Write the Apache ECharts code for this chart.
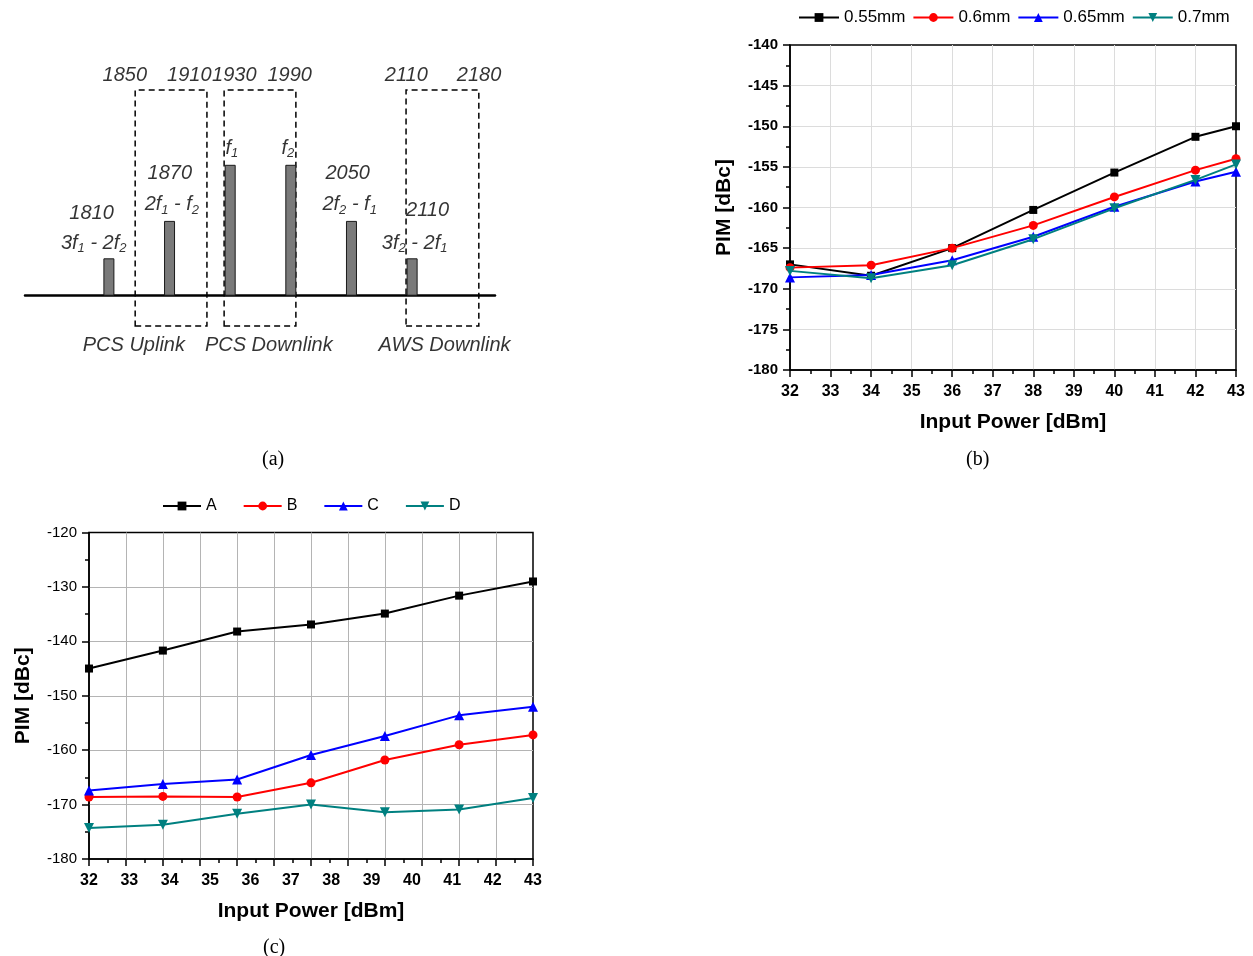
<!DOCTYPE html>
<html>
<head>
<meta charset="utf-8">
<title>PIM</title>
<script src="https://cdn.jsdelivr.net/npm/echarts@6/dist/echarts.min.js"></script>
<style>
  html, body { margin: 0; padding: 0; background: #fff; }
  #myChart { width: 1253px; height: 956px; }
</style>
</head>
<body>
<div id="myChart"></div>
<script>
// ---- (a) 频谱示意图 ----
var barFreq = [1810, 1870, 1930, 1990, 2050, 2110];
var barLevel = [1, 2, 3.5, 3.5, 2, 1];
// 虚线框 (频段), 按图上位置读取
var bandLow = [1836, 1924, 2104];
var bandHigh = [1907, 1995, 2176];
var bandTop = 5.5;
var bandBottom = -0.81;
// 文字标注 [x, y, text]
var notes = [
    [1825.8, 5.90, '1850'],
    [1889.6, 5.90, '1910'],
    [1934.1, 5.90, '1930'],
    [1988.9, 5.90, '1990'],
    [2104.3, 5.90, '2110'],
    [2176.2, 5.90, '2180'],
    [1792.9, 2.20, '1810'],
    [1795.0, 1.40, '{n|3f}{s|1}{n| - 2f}{s|2}'],
    [1870.3, 3.27, '1870'],
    [1872.3, 2.44, '{n|2f}{s|1}{n| - f}{s|2}'],
    [1931.6, 3.94, '{n|f}{s|1}'],
    [1987.0, 3.94, '{n|f}{s|2}'],
    [2046.2, 3.27, '2050'],
    [2048.2, 2.44, '{n|2f}{s|2}{n| - f}{s|1}'],
    [2125.3, 2.29, '2110'],
    [2112.5, 1.40, '{n|3f}{s|2}{n| - 2f}{s|1}'],
    [1834.7, -1.34, 'PCS Uplink'],
    [1968.2, -1.34, 'PCS Downlink'],
    [2142.1, -1.34, 'AWS Downlink']
];

// ---- (b) 不同间距 ----
var powerB = [32, 34, 36, 38, 40, 42, 43];
var namesB = ['0.55mm', '0.6mm', '0.65mm', '0.7mm'];
var pim055 = [-167.0, -168.4, -165.0, -160.3, -155.7, -151.3, -150.0];
var pim060 = [-167.4, -167.1, -165.0, -162.2, -158.7, -155.4, -154.0];
var pim065 = [-168.6, -168.3, -166.5, -163.6, -159.9, -156.8, -155.6];
var pim070 = [-167.8, -168.7, -167.1, -163.9, -160.1, -156.6, -154.7];

// ---- (c) A/B/C/D ----
var powerC = [32, 33.83, 35.67, 37.5, 39.33, 41.17, 43];
var namesC = ['A', 'B', 'C', 'D'];
var pimA = [-145.0, -141.7, -138.2, -136.9, -134.9, -131.6, -129.0];
var pimB = [-168.6, -168.5, -168.6, -166.0, -161.8, -159.0, -157.2];
var pimC = [-167.4, -166.2, -165.4, -160.9, -157.4, -153.6, -152.0];
var pimD = [-174.3, -173.7, -171.7, -170.0, -171.4, -170.9, -168.8];

var colors = ['#000000', '#ff0000', '#0000ff', '#008080'];
var symbols = ['rect', 'circle', 'triangle', 'triangle'];
var rotates = [0, 0, 0, 180];
var sans = 'Liberation Sans, Arial, sans-serif';
var serif = 'Liberation Serif, serif';

function pairs(xs, ys) {
    var out = [];
    for (var i = 0; i < xs.length; i++) out.push([xs[i], ys[i]]);
    return out;
}

// 折线
function lineSeries(name, k, xs, ys, idx, size) {
    return {
        name: name,
        type: 'line',
        xAxisIndex: idx,
        yAxisIndex: idx,
        data: pairs(xs, ys),
        color: colors[k],
        lineStyle: { width: 2, color: colors[k] },
        symbol: symbols[k],
        symbolRotate: rotates[k],
        symbolSize: k === 0 ? size - 1 : (k === 1 ? size : size + 1),
        itemStyle: { color: colors[k] },
        z: 3 + k
    };
}

// 数值坐标轴
function valueAxis(grid, min, max, step, bold, labelSize) {
    return {
        gridIndex: grid,
        type: 'value',
        min: min,
        max: max,
        interval: step,
        axisLine: { show: true, onZero: false, lineStyle: { color: '#000', width: 1.5 } },
        axisTick: { show: true, length: 7, lineStyle: { color: '#000', width: 1.5 } },
        minorTick: { show: true, splitNumber: 2, length: 4, lineStyle: { color: '#000', width: 1.5 } },
        axisLabel: { color: '#000', fontFamily: sans, fontWeight: bold ? 'bold' : 'normal', fontSize: labelSize, margin: 12 },
        nameTextStyle: { color: '#000', fontFamily: sans, fontWeight: 'bold', fontSize: 21 }
    };
}

function gridLine(color) {
    return { show: true, showMinLine: false, showMaxLine: false, lineStyle: { color: color, width: 1 } };
}

var bandData = [];
for (var i = 0; i < bandLow.length; i++) {
    bandData.push([{ xAxis: bandLow[i], yAxis: bandTop }, { xAxis: bandHigh[i], yAxis: bandBottom }]);
}

// (b) 坐标轴
var xB = valueAxis(1, 32, 43, 1, true, 16);
xB.axisLabel.margin = 14;
xB.splitLine = gridLine('#dcdcdc');
xB.name = 'Input Power [dBm]';
xB.nameLocation = 'middle';
xB.nameGap = 42;

var yB = valueAxis(1, -180, -140, 5, true, 15);
yB.splitLine = gridLine('#dcdcdc');
yB.name = 'PIM [dBc]';
yB.nameLocation = 'middle';
yB.nameGap = 55;

// (c) 坐标轴: 刻度标签 32..43, 网格线 12 等分
var xC = valueAxis(2, 32, 43, 1, true, 16);
xC.axisLabel.margin = 14;
xC.axisTick = { show: false };
xC.minorTick = { show: false };
xC.splitLine = { show: false };
xC.name = 'Input Power [dBm]';
xC.nameLocation = 'middle';
xC.nameGap = 42;
xC.position = 'bottom';

var xCgrid = valueAxis(2, 0, 12, 1, true, 16);
xCgrid.axisLabel = { show: false };
xCgrid.axisLine = { show: false, onZero: false };
xCgrid.splitLine = gridLine('#b4b4b4');
xCgrid.position = 'bottom';

var yC = valueAxis(2, -180, -120, 10, false, 15);
yC.splitLine = gridLine('#b4b4b4');
yC.name = 'PIM [dBc]';
yC.nameLocation = 'middle';
yC.nameGap = 55;

var capStyle = { fontFamily: serif, fontWeight: 'normal', fontSize: 20, color: '#000' };

var chart = echarts.init(document.getElementById('myChart'));
chart.setOption({
    animation: false,
    backgroundColor: '#fff',
    title: [
        { text: '(a)', left: 262, top: 450, padding: 0, textStyle: capStyle },
        { text: '(b)', left: 966, top: 450, padding: 0, textStyle: capStyle },
        { text: '(c)', left: 263, top: 938, padding: 0, textStyle: capStyle }
    ],
    legend: [
        {
            data: namesB, left: 798, top: 9, padding: 0, itemWidth: 40, itemHeight: 11, itemGap: 7,
            textStyle: { fontFamily: sans, fontSize: 17, color: '#000' }
        },
        {
            data: namesC, left: 162, top: 498, padding: 0, itemWidth: 38, itemHeight: 11, itemGap: 26,
            textStyle: { fontFamily: sans, fontSize: 16, color: '#000' }
        }
    ],
    grid: [
        { left: 25, top: 56.34, width: 470, height: 299.2, outerBoundsMode: 'none' },
        { left: 790, top: 45, width: 446, height: 325, show: true, borderColor: '#000', borderWidth: 1.5, outerBoundsMode: 'none' },
        { left: 89, top: 532.5, width: 444, height: 326.5, show: true, borderColor: '#000', borderWidth: 1.5, outerBoundsMode: 'none' }
    ],
    xAxis: [
        {
            gridIndex: 0, type: 'value', min: 1727, max: 2192,
            axisLine: { show: true, onZero: true, lineStyle: { color: '#000', width: 2.5 } },
            axisTick: { show: false }, axisLabel: { show: false }, splitLine: { show: false }
        },
        xB, xC, xCgrid
    ],
    yAxis: [
        {
            gridIndex: 0, type: 'value', min: -1.6, max: 6.4,
            axisLine: { show: false }, axisTick: { show: false }, axisLabel: { show: false }, splitLine: { show: false }
        },
        yB, yC
    ],
    series: [
        {
            type: 'bar',
            xAxisIndex: 0,
            yAxisIndex: 0,
            barWidth: 11,
            data: pairs(barFreq, barLevel),
            itemStyle: { color: '#7a7a7a', borderColor: '#1a1a1a', borderWidth: 1 },
            markArea: {
                silent: true,
                itemStyle: { color: 'rgba(0,0,0,0)', borderColor: '#000', borderWidth: 1.5, borderType: [6, 4] },
                data: bandData
            }
        },
        {
            type: 'scatter',
            xAxisIndex: 0,
            yAxisIndex: 0,
            silent: true,
            symbolSize: 1,
            itemStyle: { color: 'rgba(0,0,0,0)' },
            data: notes,
            label: {
                show: true,
                position: 'inside',
                color: '#000',
                fontFamily: sans,
                fontStyle: 'italic',
                fontSize: 20,
                formatter: function (p) { return p.data[2]; },
                rich: {
                    n: { fontFamily: sans, fontStyle: 'italic', fontSize: 20, lineHeight: 24, verticalAlign: 'middle', color: '#000' },
                    s: { fontFamily: sans, fontStyle: 'italic', fontSize: 13, lineHeight: 13, verticalAlign: 'bottom', color: '#000' }
                }
            }
        },
        lineSeries(namesB[0], 0, powerB, pim055, 1, 9),
        lineSeries(namesB[1], 1, powerB, pim060, 1, 9),
        lineSeries(namesB[2], 2, powerB, pim065, 1, 9),
        lineSeries(namesB[3], 3, powerB, pim070, 1, 9),
        // (c) 用第一个 x 轴 (32..43)
        lineSeries(namesC[0], 0, powerC, pimA, 2, 9),
        lineSeries(namesC[1], 1, powerC, pimB, 2, 9),
        lineSeries(namesC[2], 2, powerC, pimC, 2, 9),
        lineSeries(namesC[3], 3, powerC, pimD, 2, 9)
    ]
});
</script>
</body>
</html>
